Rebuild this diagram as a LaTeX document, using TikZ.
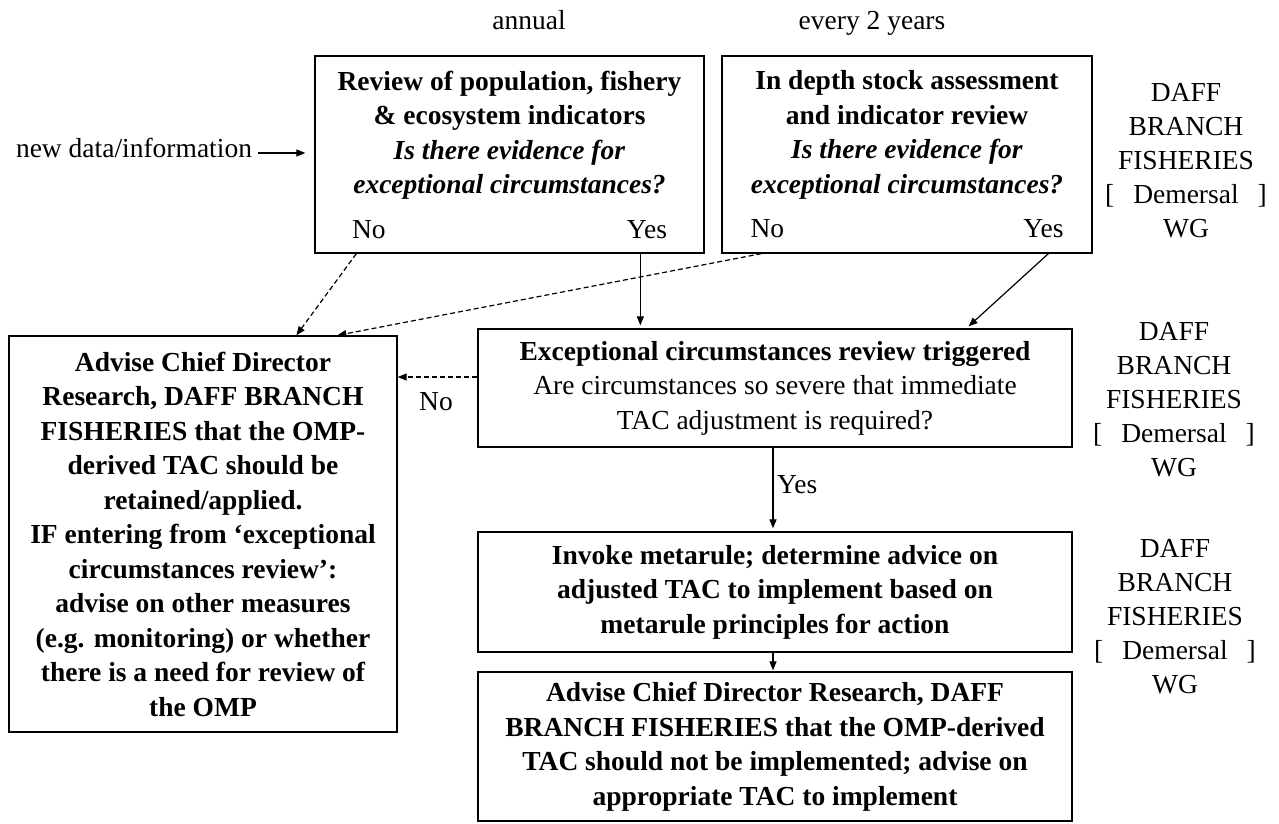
\documentclass[tikz,border=0pt]{standalone}
\usepackage{fontspec}
\setmainfont{Liberation Serif}
\usetikzlibrary{arrows.meta}
\begin{document}
\begin{tikzpicture}[x=1pt,y=-1pt,
  txt/.style={font=\fontsize{27.5}{34.5}\selectfont, inner sep=0pt, align=center, text=black},
  box/.style={draw, line width=1.3pt, txt},
  arr/.style={line width=1.2pt, -{Triangle[length=9pt,width=7pt]}},
  darr/.style={arr, dash pattern=on 5pt off 3pt}]
\useasboundingbox (0,0) rectangle (1279,823);

% top labels
\node[txt, anchor=base] (annual) at (529,29) {annual};
\node[txt, anchor=base] (every) at (872,29) {every 2 years};
\node[txt] (nd) at (134,148) {new data/information};

% boxes
\node[box, minimum width=389pt, minimum height=197pt] (A) at (509.5,154.5)
 {\textbf{Review of population, fishery}\\ \textbf{\& ecosystem indicators}\\
  \textbf{\textit{Is there evidence for}}\\ \textbf{\textit{exceptional circumstances?}}\\[10pt]
  \makebox[315pt]{No\hfill Yes}};
\node[box, minimum width=370pt, minimum height=197pt] (B) at (907,154.5)
 {\textbf{In depth stock assessment}\\ \textbf{and indicator review}\\
  \textbf{\textit{Is there evidence for}}\\ \textbf{\textit{exceptional circumstances?}}\\[10pt]
  \makebox[313pt]{No\hfill Yes}};
\node[box, font=\bfseries\fontsize{27.5}{34.5}\selectfont, minimum width=388pt, minimum height=396pt] (C) at (203,534)
 {Advise Chief Director\\ Research, DAFF BRANCH\\ FISHERIES that the OMP-\\ derived TAC should be\\
  retained/applied.\\ IF entering from `exceptional\\ circumstances review':\\ advise on other measures\\
  (e.g. monitoring) or whether\\ there is a need for review of\\ the OMP};
\node[box, minimum width=594pt, minimum height=118pt] (D) at (775,388)
 {\textbf{Exceptional circumstances review triggered}\\ Are circumstances so severe that immediate\\ TAC adjustment is required?};
\node[box, font=\bfseries\fontsize{27.5}{34.5}\selectfont, minimum width=594pt, minimum height=120pt] (E) at (775,592)
 {Invoke metarule; determine advice on\\ adjusted TAC to implement based on\\ metarule principles for action};
\node[box, font=\bfseries\fontsize{27.5}{34.5}\selectfont, minimum width=594pt, minimum height=149pt] (F) at (775,746.5)
 {Advise Chief Director Research, DAFF\\ BRANCH FISHERIES that the OMP-derived\\ TAC should not be implemented; advise on\\ appropriate TAC to implement};

% right labels
\node[txt, font=\fontsize{27.5}{34}\selectfont] (daff1) at (1186,160.5) {DAFF\\ BRANCH\\ FISHERIES\\ {[}\hspace{19pt}Demersal\hspace{19pt}{]}\\ WG};
\node[txt, font=\fontsize{27.5}{34}\selectfont] (daff2) at (1174,400) {DAFF\\ BRANCH\\ FISHERIES\\ {[}\hspace{19pt}Demersal\hspace{19pt}{]}\\ WG};
\node[txt, font=\fontsize{27.5}{34}\selectfont] (daff3) at (1175,616.5) {DAFF\\ BRANCH\\ FISHERIES\\ {[}\hspace{19pt}Demersal\hspace{19pt}{]}\\ WG};

% connectors
\draw[arr] ([shift={(6,5)}]nd.east) -- ([shift={(-9,-1.5)}]A.west);
\draw[darr] ([shift={(42,0)}]A.south west) -- ([shift={(288,0)}]C.north west);
\draw[darr] ([shift={(40,0)}]B.south west) -- ([shift={(329,0)}]C.north west);
\draw[arr, shorten >=3pt] ([shift={(326,0)}]A.south west) -- ([shift={(163,0)}]D.north west);
\draw[arr, shorten >=3pt] ([shift={(327,0)}]B.south west) -- ([shift={(489,0)}]D.north west);
\coordinate (dno) at ([shift={(0,-11)}]D.west);
\draw[darr] (dno) -- (dno -| C.east);
\node[txt] (nolbl) at (436,402) {No};
\draw[arr, shorten >=3pt] ([shift={(-2,0)}]D.south) -- ([shift={(-2,0)}]E.north);
\node[txt, anchor=west] (yeslbl) at (777,485) {Yes};
\draw[arr, shorten >=1pt] ([shift={(-2,0)}]E.south) -- ([shift={(-2,0)}]F.north);
\end{tikzpicture}
\end{document}
